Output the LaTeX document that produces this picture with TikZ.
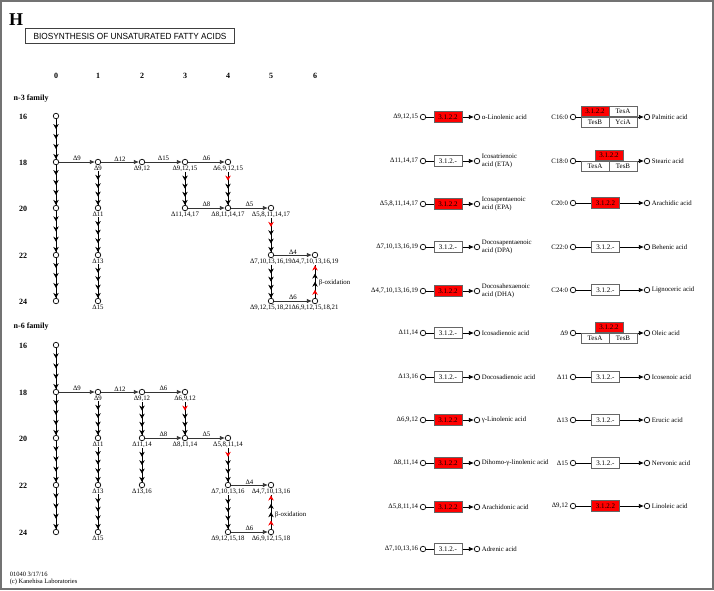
\documentclass[tikz,border=0pt]{standalone}
\usepackage{fontspec}
\setmainfont{Liberation Serif}
\newfontfamily\ttlfont{Liberation Sans}
\usetikzlibrary{arrows.meta,decorations.markings,positioning}

\tikzset{
  cpd/.style={circle,draw,fill=white,line width=0.7pt,inner sep=0pt,minimum size=5.5pt},
  dlbl/.style={font=\fontsize{6.8}{7.8}\selectfont,inner sep=0.6pt},
  hd/.style={font=\fontsize{8}{9}\selectfont\bfseries,inner sep=0.5pt},
  conv/.style={line width=0.8pt,draw=black!80,-{Latex[length=5pt,width=4.5pt]}},
  ec/.style={draw=black!60,fill=white,line width=0.7pt,minimum width=28pt,minimum height=10.5pt,
    inner sep=0pt,font=\fontsize{7}{7.5}\selectfont},
  ecred/.style={ec,fill=red},
  elong/.style n args={2}{line width=0.6pt,postaction={decorate},
    decoration={markings,
      mark=at position 0.25 with {\arrow{Stealth[length=5pt,width=5.5pt,color=#1]}},
      mark=at position 0.5 with {\arrow{Stealth[length=5pt,width=5.5pt]}},
      mark=at position 0.75 with {\arrow{Stealth[length=5pt,width=5.5pt]}},
      mark=at position 1 with {\arrow{Stealth[length=5pt,width=5.5pt,color=#2]}}}},
}

\begin{document}
\begin{tikzpicture}[x=1pt,y=-1pt]
  \useasboundingbox (0,0) rectangle (714,590);
  \draw[black!55,line width=2pt] (1,1) rectangle (712.5,588.5);

  % title
  \node[font=\fontsize{18}{18}\selectfont\bfseries,anchor=south west,inner sep=0pt] at (9,25.5) {H};
  \node[draw=black!75,line width=1pt,minimum width=209pt,minimum height=15pt,inner sep=0pt,anchor=north west] (title) at (25,28)
    {\resizebox{193pt}{6.2pt}{\ttlfont BIOSYNTHESIS OF UNSATURATED FATTY ACIDS}};

  \foreach \c/\x in {0/56,1/98,2/142,3/185,4/228,5/271,6/315}
    \node[hd] at (\x,76) {\c};

  %%%%% n-3 family %%%%%
  \node[hd,anchor=west] at (13,99) {n-3 family};
  \foreach \r/\y in {16/116,18/162,20/208,22/255,24/301}{
    \node[hd] at (23,\y+1) {\r};
    \node[cpd] (t0-\r) at (56,\y) {};
  }
  \foreach \n/\x/\y/\d in {t1-18/98/162/9, t1-20/98/208/11, t1-22/98/255/13, t1-24/98/301/15,
      t2-18/142/162/{9,12}, t3-18/185/162/{9,12,15}, t3-20/185/208/{11,14,17},
      t4-18/228/162/{6,9,12,15}, t4-20/228/208/{8,11,14,17}, t5-20/271/208/{5,8,11,14,17},
      t5-22/271/255/{7,10,13,16,19}, t5-24/271/301/{9,12,15,18,21},
      t6-22/315/255/{4,7,10,13,16,19}, t6-24/315/301/{6,9,12,15,18,21}}{
    \node[cpd] (\n) at (\x,\y) {};
    \node[dlbl,below=0.2pt of \n] (\n-l) {Δ\d};
  }

  \foreach \a/\b/\d in {t0-18/t1-18/9, t1-18/t2-18/12, t2-18/t3-18/15, t3-18/t4-18/6,
      t3-20/t4-20/8, t4-20/t5-20/5, t5-22/t6-22/4, t5-24/t6-24/6}
    \draw[conv] (\a) -- node[dlbl,above=0pt] {Δ\d} (\b);

  \foreach \a/\b in {t0-16/t0-18, t0-18/t0-20, t0-20/t0-22, t0-22/t0-24,
      t1-18-l/t1-20, t1-20-l/t1-22, t1-22-l/t1-24, t3-18-l/t3-20, t5-22-l/t5-24}
    \draw[elong={black}{black}] (\a) -- (\b);
  \draw[elong={red}{black}] (t4-18-l) -- (t4-20);
  \draw[elong={red}{black}] (t5-20-l) -- (t5-22);
  \draw[elong={red}{red}] (t6-24) -- (t6-22-l);
  \node[dlbl,anchor=west] at (318,283) {β-oxidation};

  %%%%% n-6 family %%%%%
  \node[hd,anchor=west] at (13,327) {n-6 family};
  \foreach \r/\y in {16/345,18/392,20/438,22/485,24/532}{
    \node[hd] at (23,\y+1) {\r};
    \node[cpd] (s0-\r) at (56,\y) {};
  }
  \foreach \n/\x/\y/\d in {s1-18/98/392/9, s1-20/98/438/11, s1-22/98/485/13, s1-24/98/532/15,
      s2-18/142/392/{9,12}, s2-20/142/438/{11,14}, s2-22/142/485/{13,16},
      s3-18/185/392/{6,9,12}, s3-20/185/438/{8,11,14}, s4-20/228/438/{5,8,11,14},
      s4-22/228/485/{7,10,13,16}, s4-24/228/532/{9,12,15,18},
      s5-22/271/485/{4,7,10,13,16}, s5-24/271/532/{6,9,12,15,18}}{
    \node[cpd] (\n) at (\x,\y) {};
    \node[dlbl,below=0.2pt of \n] (\n-l) {Δ\d};
  }

  \foreach \a/\b/\d in {s0-18/s1-18/9, s1-18/s2-18/12, s2-18/s3-18/6,
      s2-20/s3-20/8, s3-20/s4-20/5, s4-22/s5-22/4, s4-24/s5-24/6}
    \draw[conv] (\a) -- node[dlbl,above=0pt] {Δ\d} (\b);

  \foreach \a/\b in {s0-16/s0-18, s0-18/s0-20, s0-20/s0-22, s0-22/s0-24,
      s1-18-l/s1-20, s1-20-l/s1-22, s1-22-l/s1-24, s2-18-l/s2-20, s2-20-l/s2-22, s4-22-l/s4-24}
    \draw[elong={black}{black}] (\a) -- (\b);
  \draw[elong={red}{black}] (s3-18-l) -- (s3-20);
  \draw[elong={red}{black}] (s4-20-l) -- (s4-22);
  \draw[elong={red}{red}] (s5-24) -- (s5-22-l);
  \node[dlbl,anchor=west] at (274,515) {β-oxidation};

  %%%%% thioesterases, left column %%%%%
  \foreach \y/\sub/\sty/\ecn/\prod [count=\i] in {
      117/{Δ9,12,15}/ecred/3.1.2.2/{α-Linolenic acid},
      161/{Δ11,14,17}/ec/3.1.2.-/{Icosatrienoic\\acid (ETA)},
      204/{Δ5,8,11,14,17}/ecred/3.1.2.2/{Icosapentaenoic\\acid (EPA)},
      247/{Δ7,10,13,16,19}/ec/3.1.2.-/{Docosapentaenoic\\acid (DPA)},
      291/{Δ4,7,10,13,16,19}/ecred/3.1.2.2/{Docosahexaenoic\\acid (DHA)},
      333/{Δ11,14}/ec/3.1.2.-/{Icosadienoic acid},
      377/{Δ13,16}/ec/3.1.2.-/{Docosadienoic acid},
      420/{Δ6,9,12}/ecred/3.1.2.2/{γ-Linolenic acid},
      463/{Δ8,11,14}/ecred/3.1.2.2/{Dihomo-γ-linolenic acid},
      507/{Δ5,8,11,14}/ecred/3.1.2.2/{Arachidonic acid},
      549/{Δ7,10,13,16}/ec/3.1.2.-/{Adrenic acid}}{
    \node[cpd] (l\i-in) at (423,\y) {};
    \node[cpd] (l\i-out) at (477,\y) {};
    \draw[conv,draw=black] (l\i-in) -- (l\i-out);
    \node[\sty] (l\i-ec) at (448,\y) {\ecn};
    \node[dlbl,anchor=east] at ([xshift=-1pt]l\i-in.west) {\sub};
    \node[dlbl,anchor=west,align=left] at ([xshift=1pt]l\i-out.east) {\prod};
  }

  %%%%% thioesterases, right column %%%%%
  \foreach \y/\sub/\sty/\ecn/\prod [count=\i] in {
      203/{C20:0}/ecred/3.1.2.2/{Arachidic acid},
      247/{C22:0}/ec/3.1.2.-/{Behenic acid},
      290/{C24:0}/ec/3.1.2.-/{Lignoceric acid},
      377/{Δ11}/ec/3.1.2.-/{Icosenoic acid},
      420/{Δ13}/ec/3.1.2.-/{Erucic acid},
      463/{Δ15}/ec/3.1.2.-/{Nervonic acid},
      506/{Δ9,12}/ecred/3.1.2.2/{Linoleic acid}}{
    \node[cpd] (m\i-in) at (573,\y) {};
    \node[cpd] (m\i-out) at (647,\y) {};
    \draw[conv,draw=black] (m\i-in) -- (m\i-out);
    \node[\sty] (m\i-ec) at (605.5,\y) {\ecn};
    \node[dlbl,anchor=east] at ([xshift=-1pt]m\i-in.west) {\sub};
    \node[dlbl,anchor=west] at ([xshift=1pt]m\i-out.east) {\prod};
  }

  % palmitic acid
  \node[cpd] (pal-in) at (573,117) {};
  \node[cpd] (pal-out) at (647,117) {};
  \draw[conv,draw=black] (pal-in) -- (pal-out);
  \node[ecred] (pal-e1) at (595,111.5) {3.1.2.2};
  \node[ec] (pal-e2) at (623,111.5) {TesA};
  \node[ec] (pal-e3) at (595,122.5) {TesB};
  \node[ec] (pal-e4) at (623,122.5) {YciA};
  \node[dlbl,anchor=east] at ([xshift=-1pt]pal-in.west) {C16:0};
  \node[dlbl,anchor=west] at ([xshift=1pt]pal-out.east) {Palmitic acid};

  % stearic acid
  \node[cpd] (ste-in) at (573,161) {};
  \node[cpd] (ste-out) at (647,161) {};
  \draw[conv,draw=black] (ste-in) -- (ste-out);
  \node[ecred] (ste-e1) at (609,155.5) {3.1.2.2};
  \node[ec] (ste-e2) at (595,166.5) {TesA};
  \node[ec] (ste-e3) at (623,166.5) {TesB};
  \node[dlbl,anchor=east] at ([xshift=-1pt]ste-in.west) {C18:0};
  \node[dlbl,anchor=west] at ([xshift=1pt]ste-out.east) {Stearic acid};

  % oleic acid
  \node[cpd] (ole-in) at (573,333) {};
  \node[cpd] (ole-out) at (647,333) {};
  \draw[conv,draw=black] (ole-in) -- (ole-out);
  \node[ecred] (ole-e1) at (609,327.5) {3.1.2.2};
  \node[ec] (ole-e2) at (595,338.5) {TesA};
  \node[ec] (ole-e3) at (623,338.5) {TesB};
  \node[dlbl,anchor=east] at ([xshift=-1pt]ole-in.west) {Δ9};
  \node[dlbl,anchor=west] at ([xshift=1pt]ole-out.east) {Oleic acid};

  % footer
  \node[dlbl,anchor=north west,align=left,font=\fontsize{6.5}{7.8}\selectfont] at (9,571) {01040 3/17/16\\(c) Kanehisa Laboratories};
\end{tikzpicture}
\end{document}
